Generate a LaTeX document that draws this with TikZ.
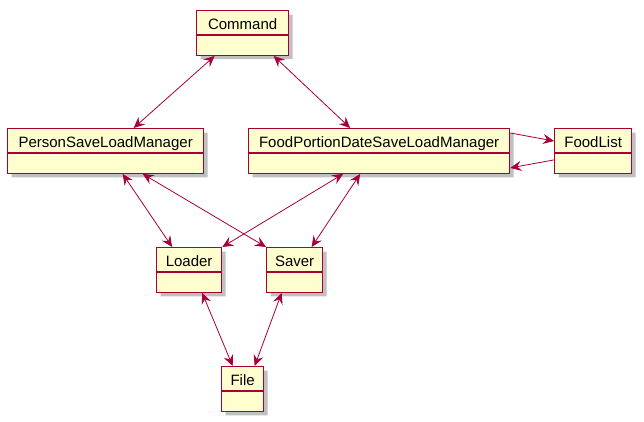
\documentclass[tikz,border=0pt]{standalone}
\usepackage{fontspec}
\setmainfont{Liberation Sans}
\usepackage{xcolor}
\usetikzlibrary{arrows.meta}
\usetikzlibrary{shapes.multipart}
\usetikzlibrary{shadows}

\definecolor{umlred}{HTML}{A80036}
\definecolor{umlfill}{HTML}{FEFECE}

\begin{document}
\begin{tikzpicture}[x=1pt, y=-1pt,
    >={Stealth[length=11pt, width=10pt, inset=4pt]},
    cls/.style={rectangle split, rectangle split parts=2, anchor=north west,
        draw=umlred, fill=umlfill, line width=1.3pt,
        inner xsep=0pt, inner ysep=4pt, text height=14pt, text depth=1pt,
        rectangle split empty part height=11pt, rectangle split empty part depth=0pt,
        font=\fontsize{15}{17}\selectfont,
        general shadow={shadow xshift=4pt, shadow yshift=-4pt, fill=black!45, opacity=.55}},
    link/.style={draw=umlred, line width=.8pt}]
    \useasboundingbox (0,0) rectangle (644,422);

    % classes
    \node[cls, minimum width=92pt] (command) at (196,10) {Command\nodepart{two}};
    \node[cls, minimum width=196pt] (personmgr) at (7,128) {PersonSaveLoadManager\nodepart{two}};
    \node[cls, minimum width=261pt] (foodmgr) at (248,128) {FoodPortionDateSaveLoadManager\nodepart{two}};
    \node[cls, minimum width=77pt] (foodlist) at (554,128) {FoodList\nodepart{two}};
    \node[cls, minimum width=65pt] (loader) at (156,247) {Loader\nodepart{two}};
    \node[cls, minimum width=56pt] (saver) at (266,247) {Saver\nodepart{two}};
    \node[cls, minimum width=42pt] (file) at (221,366) {File\nodepart{two}};

    % associations
    \draw[link, <->] ([xshift=-28pt]command.south) -- ([xshift=28pt]personmgr.north);
    \draw[link, <->] ([xshift=31pt]command.south) -- ([xshift=-29pt]foodmgr.north);
    \draw[link, <->] ([xshift=17pt]personmgr.south) -- ([xshift=-17pt]loader.north);
    \draw[link, <->] ([xshift=37pt]personmgr.south) -- (saver.north west);
    \draw[link, <->] ([xshift=-36pt]foodmgr.south) -- (loader.north east);
    \draw[link, <->] ([xshift=-19pt]foodmgr.south) -- ([xshift=17pt]saver.north);
    \draw[link, <->] ([xshift=13pt]loader.south) -- ([xshift=-10pt]file.north);
    \draw[link, <->] ([xshift=-13pt]saver.south) -- ([xshift=12pt]file.north);
    \draw[link, ->] ([yshift=-5pt]foodmgr.north east) -- ([yshift=-13pt]foodlist.north west);
    \draw[link, ->] ([yshift=14pt]foodlist.south west) -- ([yshift=6pt]foodmgr.south east);
\end{tikzpicture}
\end{document}
